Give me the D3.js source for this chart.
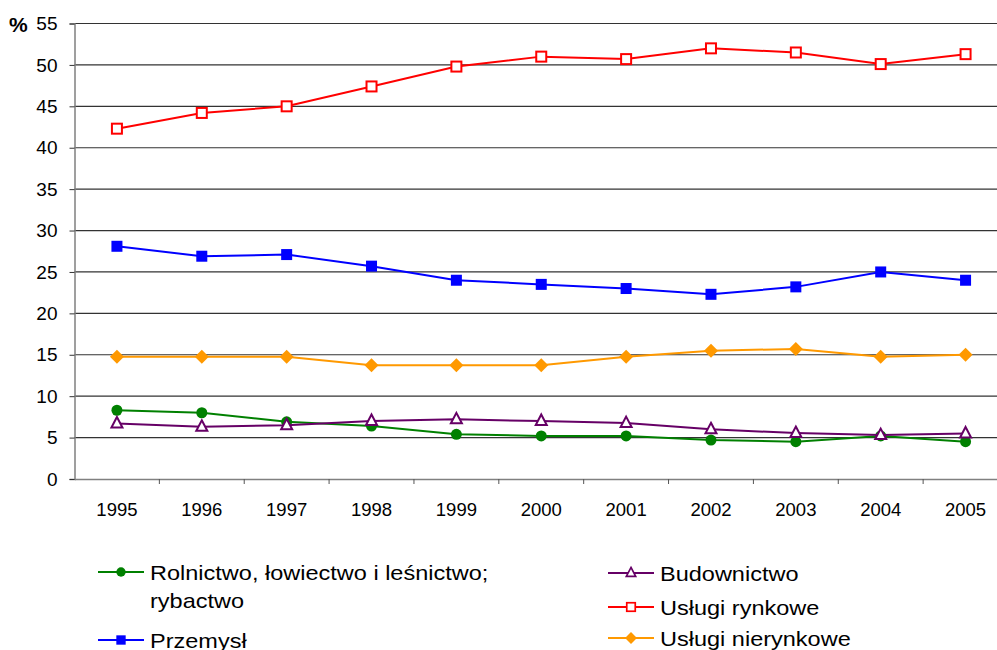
<!DOCTYPE html>
<html>
<head>
<meta charset="utf-8">
<script src="https://cdn.jsdelivr.net/npm/d3@7"></script>
<style>
  body { margin: 0; background: #fff; }
  svg { display: block; font-family: "Liberation Sans", Arial, sans-serif; overflow: hidden; }
</style>
</head>
<body>
<div id="chart"></div>
<script>
// data
var years = ["1995", "1996", "1997", "1998", "1999", "2000", "2001", "2002", "2003", "2004", "2005"]
var rolnictwo = [8.3, 8.0, 6.9, 6.4, 5.4, 5.2, 5.2, 4.7, 4.5, 5.2, 4.5]
var przemysl = [28.1, 26.9, 27.1, 25.7, 24.0, 23.5, 23.0, 22.3, 23.2, 25.0, 24.0]
var budownictwo = [6.7, 6.3, 6.5, 7.0, 7.2, 7.0, 6.75, 6.0, 5.55, 5.3, 5.5]
var uslugiRynkowe = [42.3, 44.2, 45.0, 47.4, 49.8, 51.0, 50.7, 52.0, 51.5, 50.1, 51.3]
var uslugiNierynkowe = [14.75, 14.75, 14.75, 13.75, 13.75, 13.75, 14.75, 15.5, 15.7, 14.75, 15.0]
var yTicks = [0, 5, 10, 15, 20, 25, 30, 35, 40, 45, 50, 55]

var series = [
  {name: ["Rolnictwo, łowiectwo i leśnictwo;", "rybactwo"], values: rolnictwo, color: "#008000", marker: "circle"},
  {name: ["Przemysł"], values: przemysl, color: "#0000ff", marker: "square"},
  {name: ["Budownictwo"], values: budownictwo, color: "#660066", marker: "triangle"},
  {name: ["Usługi rynkowe"], values: uslugiRynkowe, color: "#ff0000", marker: "opensquare"},
  {name: ["Usługi nierynkowe"], values: uslugiNierynkowe, color: "#ff9900", marker: "diamond"}
]

function drawChart() {
  var W = 997, H = 650
  var mLeft = 74.5, mRight = 1008, mTop = 23.5, mBottom = 479

  var svg = d3.select("#chart").append("svg")
    .attr("width", W).attr("height", H)

  var x = d3.scaleBand().domain(years).range([mLeft, mRight]).padding(0)
  var y = d3.scaleLinear().domain([0, 55]).range([mBottom, mTop])

  // gridlines
  svg.append("g").selectAll("line")
    .data(yTicks.filter(function(d) { return d > 0 }))
    .enter().append("line")
    .attr("x1", mLeft).attr("x2", mRight)
    .attr("y1", function(d) { return y(d) }).attr("y2", function(d) { return y(d) })
    .attr("stroke", "#333").attr("stroke-width", 1.2)

  // y axis
  var yAxis = svg.append("g")
    .attr("transform", "translate(" + mLeft + ",0)")
    .call(d3.axisLeft(y).tickValues(yTicks).tickSize(5).tickPadding(12))
  yAxis.select(".domain").attr("stroke", "#808080").attr("stroke-width", 1.5)
  yAxis.selectAll(".tick line").attr("stroke", "#333")
  yAxis.selectAll("text").attr("font-size", 19).attr("fill", "#000")
    .attr("font-family", "Liberation Sans, Arial, sans-serif")

  svg.append("text")
    .attr("x", 9).attr("y", 32)
    .attr("font-size", 21).attr("font-weight", "bold")
    .text("%")

  // x axis
  var xAxis = svg.append("g")
    .attr("transform", "translate(0," + mBottom + ")")
    .call(d3.axisBottom(x).tickSize(0).tickPadding(24))
  xAxis.select(".domain").attr("stroke", "#808080").attr("stroke-width", 1.5)
  xAxis.selectAll("text").attr("font-size", 18.5).attr("fill", "#000")
    .attr("font-family", "Liberation Sans, Arial, sans-serif")

  svg.append("g").selectAll("line")
    .data(years)
    .enter().append("line")
    .attr("x1", function(d) { return x(d) + x.bandwidth() }).attr("x2", function(d) { return x(d) + x.bandwidth() })
    .attr("y1", mBottom).attr("y2", mBottom + 5)
    .attr("stroke", "#555")

  var line = d3.line()
    .x(function(d, i) { return x(years[i]) + x.bandwidth() / 2 })
    .y(function(d) { return y(d) })

  series.forEach(function(s) {
    svg.append("path")
      .datum(s.values)
      .attr("fill", "none")
      .attr("stroke", s.color)
      .attr("stroke-width", 2)
      .attr("d", line)
    s.values.forEach(function(v, i) {
      var g = svg.append("g")
        .attr("transform", "translate(" + (x(years[i]) + x.bandwidth() / 2) + "," + y(v) + ")")
      drawMarker(g, s.marker, s.color)
    })
  })

  // legend
  var legendPos = [
    {x: 98, y: 572},
    {x: 98, y: 640},
    {x: 608, y: 573},
    {x: 608, y: 607},
    {x: 608, y: 638}
  ]
  series.forEach(function(s, i) {
    var p = legendPos[i]
    var g = svg.append("g").attr("transform", "translate(" + p.x + "," + p.y + ")")
    g.append("line").attr("x1", 0).attr("x2", 46).attr("y1", 0).attr("y2", 0)
      .attr("stroke", s.color).attr("stroke-width", 2)
    var m = g.append("g").attr("transform", "translate(23,0) scale(0.85)")
    drawMarker(m, s.marker, s.color)
    s.name.forEach(function(t, j) {
      g.append("text")
        .attr("transform", "translate(52," + (7.5 + j * 28) + ") scale(1.12,1)")
        .attr("font-size", 21)
        .text(t)
    })
  })
}

function drawMarker(g, type, color) {
  if (type == "circle") {
    g.append("circle").attr("r", 5.5).attr("fill", color)
  } else if (type == "square") {
    g.append("rect").attr("x", -5.5).attr("y", -5.5).attr("width", 11).attr("height", 11).attr("fill", color)
  } else if (type == "opensquare") {
    g.append("rect").attr("x", -5).attr("y", -5).attr("width", 10).attr("height", 10)
      .attr("fill", "#fff").attr("stroke", color).attr("stroke-width", 2)
  } else if (type == "triangle") {
    g.append("path").attr("d", "M0,-6.5L5.5,4L-5.5,4Z")
      .attr("fill", "#fff").attr("stroke", color).attr("stroke-width", 2)
  } else if (type == "diamond") {
    g.append("path").attr("d", "M0,-7L7,0L0,7L-7,0Z").attr("fill", color)
  }
}

drawChart()
</script>
</body>
</html>
